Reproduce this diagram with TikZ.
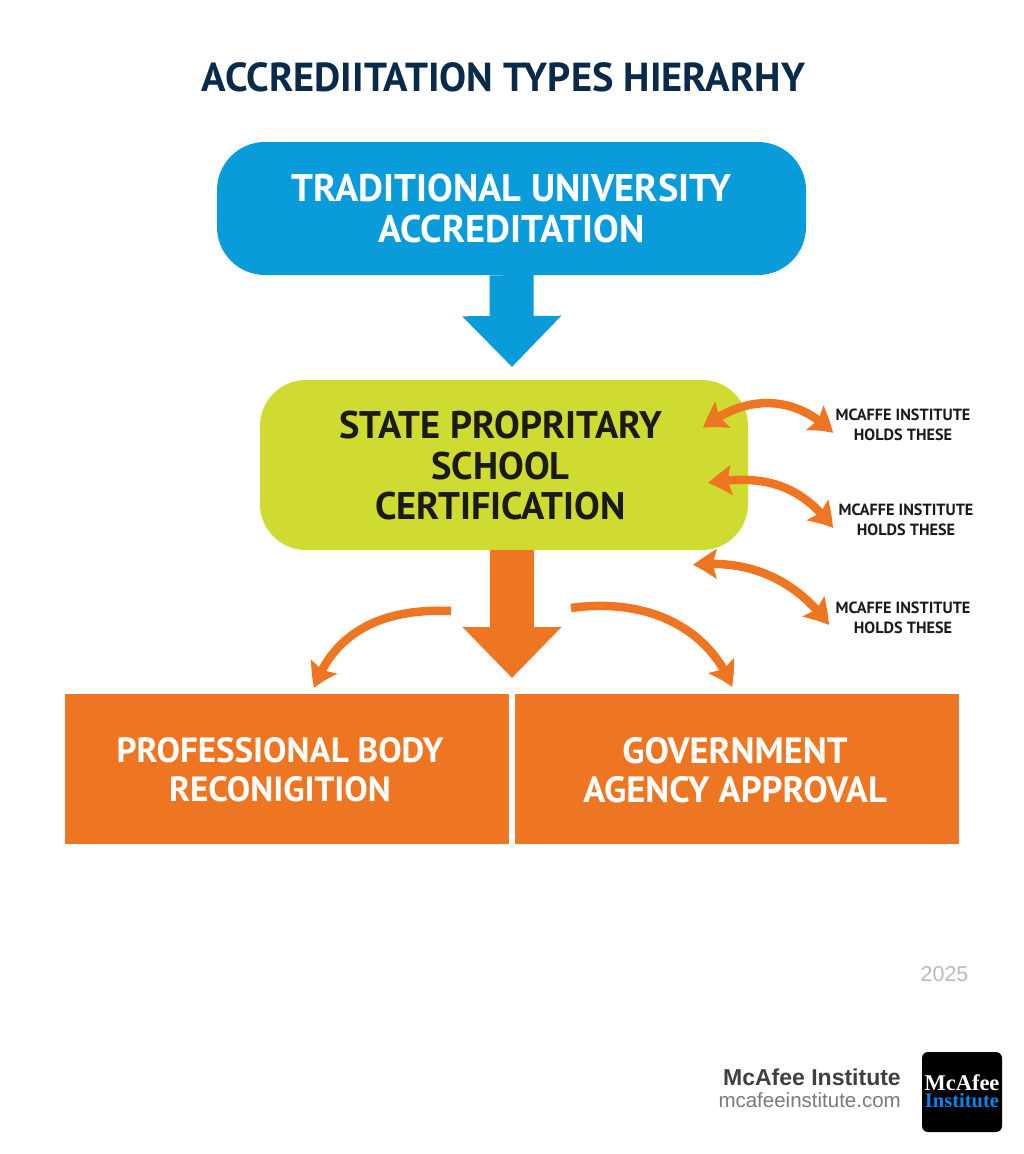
\documentclass[tikz,border=0pt]{standalone}
\usepackage{fontspec}
\setmainfont{PT Sans}
\newfontfamily\footfont{Liberation Sans}
\newfontfamily\logofont{Liberation Serif}
\usetikzlibrary{arrows.meta,bending}
\definecolor{navy}{HTML}{0A2A4A}
\definecolor{skyb}{HTML}{0A9BDB}
\definecolor{lime}{HTML}{CFDB30}
\definecolor{orng}{HTML}{EE7623}
\definecolor{inktxt}{HTML}{1A1A1A}
\definecolor{logoblue}{HTML}{0A84E8}
\tikzset{
  boxtxt/.style={align=center,font=\fontsize{38.5}{40.5}\selectfont\bfseries,inner sep=0pt},
  lowtxt/.style={boxtxt,text=white,font=\fontsize{36.5}{39}\selectfont\bfseries},
  lowtxtb/.style={boxtxt,text=white,font=\fontsize{35}{39}\selectfont\bfseries},
  bigarrow/.style={line width=44pt,-{Triangle[length=51pt,width=96pt]}},
  dbl/.style={draw=orng,line width=8.5pt,{Stealth[length=24pt,width=29pt,inset=4pt,bend]}-{Stealth[length=24pt,width=29pt,inset=4pt,bend]}},
  sgl/.style={draw=orng,line width=8.5pt,-{Stealth[length=24pt,width=29pt,inset=4pt,bend]}},
  holds/.style={align=center,font=\fontsize{16.2}{20}\selectfont\bfseries,text=inktxt,inner sep=0pt},
}
\begin{document}
\begin{tikzpicture}[x=1pt,y=-1pt]
\useasboundingbox[fill=white] (0,0) rectangle (1024,1154);
\node[font=\fontsize{40.5}{42}\selectfont\bfseries,text=navy,inner sep=0pt] (title) at (503.5,77) {ACCREDIITATION TYPES HIERARHY};

\node[boxtxt,fill=skyb,rounded corners=48pt,minimum width=589pt,minimum height=133pt,text=white] (trad) at (511.5,208.5) {TRADITIONAL UNIVERSITY\\ACCREDITATION};
\node[boxtxt,fill=lime,rounded corners=46pt,minimum width=488pt,minimum height=170pt] (state) at (504,465) {};
\node[boxtxt,text=inktxt] (statetxt) at (500.5,466) {STATE PROPRITARY\\SCHOOL\\CERTIFICATION};
\node[fill=orng,minimum width=444pt,minimum height=150pt,inner sep=0pt] (prof) at (287,769) {};
\node[fill=orng,minimum width=444pt,minimum height=150pt,inner sep=0pt] (gov) at (737,769) {};
\node[lowtxtb] (proftxt) at (280,770) {PROFESSIONAL BODY\\RECONIGITION};
\node[lowtxt] (govtxt) at (735,770) {GOVERNMENT\\AGENCY APPROVAL};

\coordinate (t1) at (512,367);
\coordinate (t2) at (512,678);
\draw[bigarrow,draw=skyb,color=skyb] (trad.south) -- (t1);
\draw[bigarrow,draw=orng,color=orng] ([xshift=8pt]state.south) -- (t2);

\node[holds] (h1) at (903,424.5) {MCAFFE INSTITUTE\\HOLDS THESE};
\node[holds] (h2) at (906,519.5) {MCAFFE INSTITUTE\\HOLDS THESE};
\node[holds] (h3) at (903,617.5) {MCAFFE INSTITUTE\\HOLDS THESE};

\coordinate (a1l) at (703,428); \coordinate (a1r) at (833,433);
\coordinate (a2l) at (708,483); \coordinate (a2r) at (833,528);
\coordinate (a3l) at (693,565); \coordinate (a3r) at (829,625);
\draw[dbl] (a1l) .. controls (745,394) and (795,394) .. (a1r);
\draw[dbl] (a2l) .. controls (770,472) and (805,490) .. (a2r);
\draw[dbl] (a3l) .. controls (755,558) and (800,585) .. (a3r);

\coordinate (l0) at (451,611); \coordinate (l1) at (314,688);
\coordinate (r0) at (571,608); \coordinate (r1) at (732,687);
\draw[sgl] (l0) .. controls (385,608) and (335,630) .. (l1);
\draw[sgl] (r0) .. controls (650,597) and (710,630) .. (r1);

\node[font=\footfont\fontsize{21.5}{24}\selectfont,text=black!27,inner sep=0pt] (year) at (944.5,974) {2025};
\node[anchor=east,font=\footfont\fontsize{23}{26}\selectfont\bfseries,text=black!75,inner sep=0pt] (brand) at (901,1077.5) {McAfee Institute};
\node[anchor=east,font=\footfont\fontsize{20.5}{24}\selectfont,text=black!52,inner sep=0pt] (site) at (901,1100) {mcafeeinstitute.com};
\node[fill=black,rounded corners=6pt,minimum width=80pt,minimum height=80pt,inner sep=0pt] (logo) at (962,1092) {};
\node[font=\logofont\fontsize{22.5}{24}\selectfont\bfseries,text=white,inner sep=0pt] (logoa) at (962,1082.5) {McAfee};
\node[font=\logofont\fontsize{20.5}{22}\selectfont\bfseries,text=logoblue,inner sep=0pt] (logob) at (962,1100.5) {Institute};
\end{tikzpicture}
\end{document}
